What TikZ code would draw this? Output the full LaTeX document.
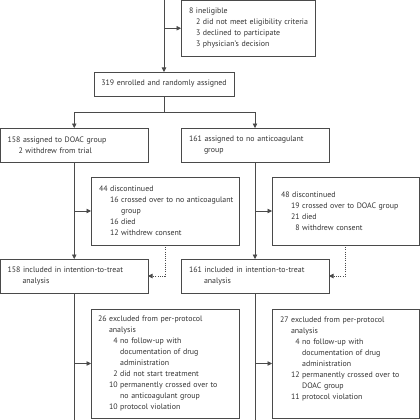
\documentclass[tikz,border=0pt]{standalone}
\usepackage{fontspec}
\setmainfont{PT Sans}
\usetikzlibrary{arrows.meta}
\definecolor{linec}{HTML}{4A4A4A}
\definecolor{txtc}{HTML}{333333}
\newlength\twodig
\newcommand\myLn[2][0pt]{\mbox{\hspace*{#1}#2}}
\newcommand\mySb[3][11pt]{\mbox{\hspace*{#1}\makebox[\twodig][r]{#2}\hspace{2.5pt}#3}}
\newcommand\myCn[2][11pt]{\mbox{\hspace*{\dimexpr#1+\twodig+2.5pt\relax}#2}}
\tikzset{
  box/.style={draw=linec, line width=0.7pt, anchor=north west, outer sep=0pt,
    inner ysep=0pt, align=left, text=txtc, font=\fontsize{7.9}{11}\selectfont},
  ln/.style={draw=linec, line width=0.7pt},
  arr/.style={-{Triangle[length=4.5pt,width=4.5pt]}},
  dotl/.style={draw=linec, line width=0.7pt, dash pattern=on 1pt off 1.2pt}
}
\begin{document}
\settowidth{\twodig}{\fontsize{7.9}{11}\selectfont 00}
\begin{tikzpicture}[x=1pt,y=-1pt]
\useasboundingbox (0,0) rectangle (420,420);
% boxes
\node[box, inner xsep=8pt, minimum width=134pt, text width=118pt, minimum height=55.5pt] (inel) at (181,0.5)
 {\myLn{8 ineligible}\\ \myLn[7pt]{2 did not meet eligibility criteria}\\ \myLn[7pt]{3 declined to participate}\\ \myLn[7pt]{3 physician’s decision}};
\node[box, align=center, inner xsep=4pt, minimum width=140pt, text width=132pt, minimum height=24pt] (enrol) at (94,72)
 {\mbox{319 enrolled and randomly assigned}};
\node[box, inner xsep=7pt, minimum width=147.5pt, text width=133.5pt, minimum height=34pt] (doac) at (0.5,128)
 {\myLn{158 assigned to DOAC group}\\ \myLn[11pt]{2 withdrew from trial}};
\node[box, inner xsep=8pt, minimum width=148pt, text width=132pt, minimum height=34pt] (noac) at (181,128)
 {\myLn{161 assigned to no anticoagulant}\\ \myLn[15pt]{group}};
\node[box, inner xsep=8pt, minimum width=148pt, text width=132pt, minimum height=68pt] (disc1) at (91,177)
 {\myLn{44 discontinued}\\ \mySb{16}{crossed over to no anticoagulant}\\ \myCn{group}\\ \mySb{16}{died}\\ \mySb{12}{withdrew consent}};
\node[box, inner xsep=9pt, minimum width=147pt, text width=129pt, minimum height=68pt] (disc2) at (272,177)
 {\myLn{48 discontinued}\\ \mySb[10pt]{19}{crossed over to DOAC group}\\ \mySb[10pt]{21}{died}\\ \mySb[10pt]{8}{withdrew consent}};
\node[box, inner xsep=7pt, minimum width=147.5pt, text width=133.5pt, minimum height=34pt] (itt1) at (0.5,259)
 {\myLn{158 included in intention-to-treat}\\ \myLn[15pt]{analysis}};
\node[box, inner xsep=8pt, minimum width=148pt, text width=132pt, minimum height=34pt] (itt2) at (181,259)
 {\myLn{161 included in intention-to-treat}\\ \myLn[15pt]{analysis}};
\node[box, inner xsep=7pt, minimum width=148pt, text width=134pt, minimum height=109pt] (ex1) at (91,309)
 {\myLn{26 excluded from per-protocol}\\ \myLn[11pt]{analysis}\\ \mySb{4}{no follow-up with}\\ \myCn{documentation of drug}\\ \myCn{administration}\\ \mySb{2}{did not start treatment}\\ \mySb{10}{permanently crossed over to}\\ \myCn{no anticoagulant group}\\ \mySb{10}{protocol violation}};
\node[box, inner xsep=8pt, minimum width=147pt, text width=131pt, minimum height=109pt] (ex2) at (272,309)
 {\myLn{27 excluded from per-protocol}\\ \myLn[11pt]{analysis}\\ \mySb{4}{no follow-up with}\\ \myCn{documentation of drug}\\ \myCn{administration}\\ \mySb{12}{permanently crossed over to}\\ \myCn{DOAC group}\\ \mySb{11}{protocol violation}\\ \mbox{}};
% connectors
\coordinate (top) at (enrol.north |- 0,0);
\draw[ln, arr] (top) -- (enrol.north);
\coordinate (j1) at (enrol.north |- inel.west);
\draw[ln, arr] (j1) -- (inel.west);
\coordinate (split) at (enrol.south |- 0,112);
\draw[ln] (enrol.south) -- (split);
\coordinate (sl) at (doac.north |- split);
\coordinate (sr) at (noac.north |- split);
\draw[ln] (sl) -- (sr);
\draw[ln, arr] (sl) -- (doac.north);
\draw[ln, arr] (sr) -- (noac.north);
\draw[ln, arr] (doac.south) -- (itt1.north);
\draw[ln, arr] (noac.south) -- (itt2.north);
\coordinate (b1) at (doac.south |- disc1.west);
\coordinate (b2) at (noac.south |- disc2.west);
\draw[ln, arr] (b1) -- (disc1.west);
\draw[ln, arr] (b2) -- (disc2.west);
\draw[dotl, arr] (disc1.south) |- (itt1.east);
\draw[dotl, arr] (disc2.south) |- (itt2.east);
\coordinate (e1) at (itt1.south |- 0,420);
\coordinate (e2) at (itt2.south |- 0,420);
\draw[ln] (itt1.south) -- (e1);
\draw[ln] (itt2.south) -- (e2);
\coordinate (c1) at (itt1.south |- ex1.west);
\coordinate (c2) at (itt2.south |- ex2.west);
\draw[ln, arr] (c1) -- (ex1.west);
\draw[ln, arr] (c2) -- (ex2.west);
\end{tikzpicture}
\end{document}
